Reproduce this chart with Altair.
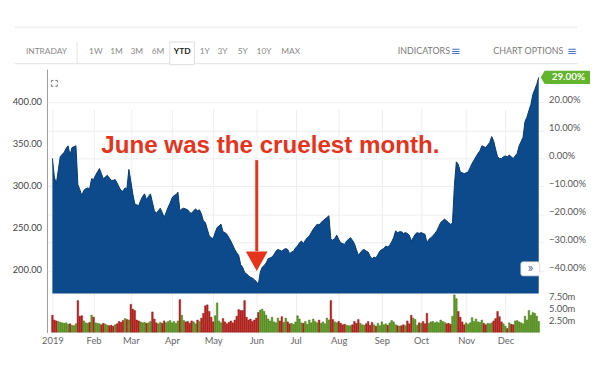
import altair as alt
import pandas as pd
import numpy as np

# ---------------- data ----------------
MONTHS = ["2019", "Feb", "Mar", "Apr", "May", "Jun", "Jul", "Aug", "Sep", "Oct", "Nov", "Dec"]
MONTH_START = [0, 21, 40, 61, 82, 104, 124, 146, 168, 188, 211, 231]  # trading-day index

PRICE_JAN = [332, 310, 302, 318, 334, 337, 339, 344, 347, 336, 345, 346, 347, 301, 295, 288, 294, 296, 297, 296, 308]
PRICE_FEB = [307, 312, 316, 320, 314, 308, 310, 312, 309, 306, 306, 307, 303, 298, 294, 293, 297, 296, 319]
PRICE_MAR = [305, 290, 278, 277, 276, 282, 287, 290, 283, 287, 290, 280, 270, 267, 270, 273, 268, 262, 268, 274, 279]
PRICE_APR = [285, 288, 289, 292, 270, 272, 273, 272, 271, 268, 267, 270, 272, 270, 271, 266, 258, 256, 248, 240, 238]
PRICE_MAY = [237, 244, 250, 252, 254, 245, 244, 242, 238, 234, 229, 224, 220, 217, 206, 203, 197, 195, 193, 191, 190, 188]
PRICE_JUN = [186, 182, 197, 203, 205, 208, 213, 214, 215, 218, 222, 224, 223, 222, 224, 225, 224, 219, 221, 222]
PRICE_JUL = [226, 228, 232, 234, 231, 235, 238, 240, 244, 248, 251, 254, 253, 256, 258, 260, 262, 264, 236, 235, 237, 241]
PRICE_AUG = [236, 232, 231, 230, 234, 236, 238, 235, 231, 224, 217, 220, 223, 224, 222, 221, 216, 213, 215, 214, 218, 222]
PRICE_SEP = [224, 225, 228, 227, 229, 233, 238, 246, 244, 245, 245, 243, 244, 243, 241, 234, 238, 242, 244, 243]
PRICE_OCT = [244, 243, 242, 232, 236, 238, 240, 243, 246, 251, 256, 258, 260, 258, 256, 254, 255, 300, 328, 325, 316, 315, 314]
PRICE_NOV = [315, 316, 321, 326, 330, 334, 338, 341, 347, 346, 345, 348, 351, 358, 353, 343, 334, 332, 332, 334]
PRICE_DEC = [335, 334, 336, 334, 332, 335, 338, 347, 352, 357, 376, 381, 389, 396, 408, 414, 420, 428.3]

VOL_JAN = [3.6, 2.6, 2.4, 2.3, 2.1, 2.0, 1.9, 2.0, 1.7, 1.8, 1.5, 1.4, 1.8, 6.7, 3.4, 3.5, 2.4, 2.0, 1.9, 2.1, 3.6]
VOL_FEB = [3.2, 2.0, 1.9, 1.8, 1.6, 1.9, 1.7, 1.5, 1.4, 1.5, 1.3, 1.6, 1.8, 2.3, 2.1, 2.5, 2.9, 2.7, 2.6]
VOL_MAR = [5.9, 4.9, 4.6, 2.6, 2.4, 2.2, 2.0, 2.1, 1.9, 2.0, 2.3, 4.3, 2.8, 2.0, 1.8, 2.1, 1.9, 2.4, 2.0, 2.3, 2.5]
VOL_APR = [2.0, 2.3, 1.9, 2.4, 6.9, 3.6, 2.5, 2.2, 2.3, 1.9, 2.4, 2.2, 1.8, 2.6, 2.3, 3.0, 4.0, 5.6, 5.8, 4.4, 3.2]
VOL_MAY = [2.2, 3.5, 6.2, 2.4, 2.0, 2.9, 2.2, 1.8, 2.1, 2.4, 2.0, 2.6, 3.4, 4.8, 4.6, 4.6, 6.7, 3.2, 2.6, 2.8, 2.3, 2.6]
VOL_JUN = [3.0, 4.2, 4.7, 4.9, 4.4, 3.6, 2.8, 2.4, 3.2, 2.2, 2.0, 3.0, 2.4, 3.3, 2.1, 3.0, 2.2, 1.8, 1.9, 1.7]
VOL_JUL = [2.2, 3.5, 2.8, 2.0, 1.9, 2.3, 1.7, 2.6, 2.0, 2.8, 2.3, 2.0, 2.6, 1.9, 2.2, 1.8, 3.0, 2.6, 6.7, 2.7, 2.2, 2.0]
VOL_AUG = [2.3, 1.9, 1.6, 1.7, 1.5, 1.4, 1.4, 1.6, 2.3, 1.9, 2.7, 1.9, 1.6, 1.5, 1.8, 2.3, 1.5, 2.1, 1.6, 1.3, 1.9, 1.4]
VOL_SEP = [2.2, 1.6, 1.8, 1.5, 2.0, 2.5, 2.2, 1.6, 1.4, 1.3, 1.4, 1.6, 1.4, 2.4, 1.8, 3.6, 3.0, 2.7, 1.5, 2.0]
VOL_OCT = [1.9, 2.3, 1.8, 4.0, 1.9, 2.2, 2.3, 2.0, 2.2, 2.0, 2.6, 2.3, 2.1, 1.8, 1.9, 1.7, 3.4, 7.9, 7.1, 4.4, 3.2, 2.2, 1.6]
VOL_NOV = [2.0, 1.7, 2.0, 3.1, 2.3, 2.8, 2.2, 2.1, 2.6, 1.9, 1.6, 1.9, 1.8, 2.0, 2.4, 2.9, 4.4, 3.3, 2.2, 1.8]
VOL_DEC = [1.3, 0.8, 2.0, 1.7, 1.6, 2.4, 2.5, 2.2, 2.0, 1.8, 3.4, 2.6, 4.6, 3.6, 4.2, 4.0, 3.4, 2.3]

BASE_PRICE = 332.02           # start of year reference for the % axis (428.30 = +29.00%)
PRICE_TICKS = [200, 250, 300, 350, 400]
PCT_TICKS = [-0.4, -0.3, -0.2, -0.1, 0.0, 0.1, 0.2]
VOL_TICKS = [2.5, 5.0, 7.5]
ANNOTATION = "June was the cruelest month."
ARROW = {"day": [104.2], "top": [330], "base": [222], "head": [210]}
TABS = ["INTRADAY", "1W", "1M", "3M", "6M", "YTD", "1Y", "3Y", "5Y", "10Y", "MAX"]
MENUS = ["INDICATORS", "CHART OPTIONS"]

# ---------------- table ----------------
price = PRICE_JAN + PRICE_FEB + PRICE_MAR + PRICE_APR + PRICE_MAY + PRICE_JUN + \
    PRICE_JUL + PRICE_AUG + PRICE_SEP + PRICE_OCT + PRICE_NOV + PRICE_DEC
volume = VOL_JAN + VOL_FEB + VOL_MAR + VOL_APR + VOL_MAY + VOL_JUN + \
    VOL_JUL + VOL_AUG + VOL_SEP + VOL_OCT + VOL_NOV + VOL_DEC
n = len(price)
df = pd.DataFrame({"day": np.arange(n), "price": price, "volume": volume[:n]})
df["up"] = df["price"].diff().fillna(-1) > 0
df["pct"] = df["price"] / BASE_PRICE - 1
last = df.tail(1)
arrow_df = pd.DataFrame(ARROW)

# ---------------- layout / styles ----------------
W, H = 503, 267
PRICE_H = 227
P_DOM = [171.7, 437.5]
FONT = "Lato"
RED_TXT = "#e5331c"
BLUE = "#0c4a8b"

x_scale = alt.Scale(domain=[0, n - 1], nice=False, zero=False)
price_scale = alt.Scale(domain=P_DOM, range=[PRICE_H, 0], nice=False, zero=False)
pct_scale = alt.Scale(domain=[P_DOM[0] / BASE_PRICE - 1, P_DOM[1] / BASE_PRICE - 1],
                      range=[PRICE_H, 0], nice=False, zero=False)
vol_scale = alt.Scale(domain=[0, 7.77], range=[266.3, 229], nice=False)

label_expr = "[" + ",".join("'%s'" % m for m in MONTHS) + "][indexof([" + \
    ",".join(str(v) for v in MONTH_START) + "], datum.value)]"
x_axis = alt.Axis(values=MONTH_START, labelExpr=label_expr, title=None, grid=True,
                  gridColor="#eeeeee", ticks=False, domain=False, labelPadding=3,
                  labelFontSize=9.5, labelColor="#666666", labelFont=FONT)
price_axis = alt.Axis(values=PRICE_TICKS, format=".2f", title=None, grid=False, ticks=False,
                      domain=False, labelPadding=6, labelFontSize=9.5, labelColor="#444444",
                      labelFont=FONT, orient="left")
pct_axis = alt.Axis(values=PCT_TICKS, format=".2%", title=None, grid=True, gridColor="#eeeeee",
                    ticks=False, domain=False, labelPadding=5, labelFontSize=9.5,
                    labelColor="#555555", labelFont=FONT, orient="right", labelOffset=-3)
vol_axis = alt.Axis(values=VOL_TICKS, labelExpr="format(datum.value, '.2f') + 'm'", title=None,
                    grid=False, ticks=False, domain=False, labelPadding=5, labelFontSize=9.5,
                    labelColor="#555555", labelFont=FONT, orient="right")

X = alt.X("day:Q", scale=x_scale, axis=x_axis)

# price group (shares the price scale)
area = alt.Chart(df).mark_area(color=BLUE, opacity=1,
                               line={"color": "#063a72", "strokeWidth": 1}).encode(
    x=X, y=alt.Y("price:Q", scale=price_scale, axis=price_axis), y2=alt.datum(P_DOM[0]))
shaft = alt.Chart(arrow_df).mark_rule(color=RED_TXT, strokeWidth=3).encode(
    x=X, y=alt.Y("top:Q", scale=price_scale, axis=price_axis), y2="base:Q")
head = alt.Chart(arrow_df).mark_point(shape="M-1,-0.9L1,-0.9L0,0.9Z", size=484, filled=True,
                                      color=RED_TXT, opacity=1).encode(
    x=X, y=alt.Y("head:Q", scale=price_scale, axis=price_axis))
flag = alt.Chart(last).mark_point(shape="M-1,0L-0.84,-0.27L1,-0.27L1,0.27L-0.84,0.27Z",
                                  size=2500, filled=True, color="#62b52c", opacity=1).encode(
    x=alt.value(525), y=alt.Y("price:Q", scale=price_scale, axis=price_axis))
flag_txt = alt.Chart(last).mark_text(color="white", fontSize=10, font=FONT, fontWeight="bold",
                                     align="center", baseline="middle").encode(
    x=alt.value(528), y=alt.Y("price:Q", scale=price_scale, axis=price_axis),
    text=alt.Text("pct:Q", format=".2%"))
price_group = alt.layer(area, shaft, head, flag, flag_txt)

pct_layer = alt.Chart(df).mark_point(opacity=0).encode(
    x=X, y=alt.Y("pct:Q", scale=pct_scale, axis=pct_axis))

bars = alt.Chart(df).mark_bar(size=1.7, strokeWidth=0.4, opacity=1).encode(
    x=X, y=alt.Y("volume:Q", scale=vol_scale, axis=vol_axis),
    color=alt.condition("datum.up", alt.value("#5f9f21"), alt.value("#c8201d")),
    stroke=alt.condition("datum.up", alt.value("#3c6a12"), alt.value("#7a1410")))

# ---------------- decorations ----------------
deco = []
deco.append(alt.Chart().mark_rule(color="#999999", strokeWidth=1).encode(
    x=alt.value(0), y=alt.value(0), y2=alt.value(H)))
deco.append(alt.Chart().mark_text(text=ANNOTATION, font="Liberation Sans", fontWeight="bold",
                                  fontSize=24.5, color=RED_TXT, align="center",
                                  baseline="alphabetic").encode(x=alt.value(226), y=alt.value(85)))
# header bar
deco.append(alt.Chart().mark_rule(color="#e6e6e6").encode(
    x=alt.value(-33), x2=alt.value(537), y=alt.value(-43)))
deco.append(alt.Chart().mark_rule(color="#e3e3e3").encode(
    x=alt.value(-33), x2=alt.value(537), y=alt.value(-6)))
deco.append(alt.Chart().mark_rule(color="#e3e3e3").encode(
    x=alt.value(30), y=alt.value(-28), y2=alt.value(-6)))
deco.append(alt.Chart().mark_rect(fill="white", stroke="#dddddd", strokeWidth=1).encode(
    x=alt.value(124), x2=alt.value(149), y=alt.value(-28), y2=alt.value(-5)))
TAB_X = [-1, 49, 70, 90.5, 112, 136.5, 159.5, 177.5, 198, 219.5, 246.5]
for lab, xp in zip(TABS, TAB_X):
    sel = lab == "YTD"
    deco.append(alt.Chart().mark_text(text=lab, font=FONT, fontSize=8.5,
                                      fontWeight="bold" if sel else "normal",
                                      color="#222222" if sel else "#8a8a8a",
                                      align="center", baseline="middle").encode(
        x=alt.value(xp), y=alt.value(-19)))
MENU_X = [408, 523]
ICON_X = [414, 532]
for lab, xp, ix in zip(MENUS, MENU_X, ICON_X):
    deco.append(alt.Chart().mark_text(text=lab, font=FONT, fontSize=9, color="#7a7a7a",
                                      align="right", baseline="middle").encode(
        x=alt.value(xp), y=alt.value(-19)))
    deco.append(alt.Chart().mark_text(text="\u2261", font="DejaVu Sans", fontSize=12,
                                      color="#4a78c8", align="center", baseline="middle").encode(
        x=alt.value(ix), y=alt.value(-19)))
# expand icon
segs = [(4, 11, 6, 11), (4, 11, 4, 13), (8, 11, 10, 11), (10, 11, 10, 13),
        (4, 15, 4, 17), (4, 17, 6, 17), (10, 15, 10, 17), (8, 17, 10, 17)]
for (a, b, c, d) in segs:
    deco.append(alt.Chart().mark_rule(color="#777777", strokeWidth=1).encode(
        x=alt.value(a), y=alt.value(b), x2=alt.value(c), y2=alt.value(d)))
# scroll button
deco.append(alt.Chart().mark_rect(fill="white", cornerRadius=2, stroke="#e0e0e0").encode(
    x=alt.value(480), x2=alt.value(499), y=alt.value(195), y2=alt.value(209)))
deco.append(alt.Chart().mark_text(text="\u00bb", font=FONT, fontSize=14, color="#4d6e9c",
                                  align="center", baseline="middle").encode(
    x=alt.value(489.5), y=alt.value(201.5)))

chart = alt.layer(price_group, pct_layer, bars, *deco).resolve_scale(y="independent").properties(
    width=W, height=H,
    autosize=alt.AutoSizeParams(type="none"),
    padding={"left": 40, "top": 60, "right": 49, "bottom": 27},
    background="white",
).configure_view(stroke=None)

chart.save("out.html", embed_options={"renderer": "svg", "actions": False})
